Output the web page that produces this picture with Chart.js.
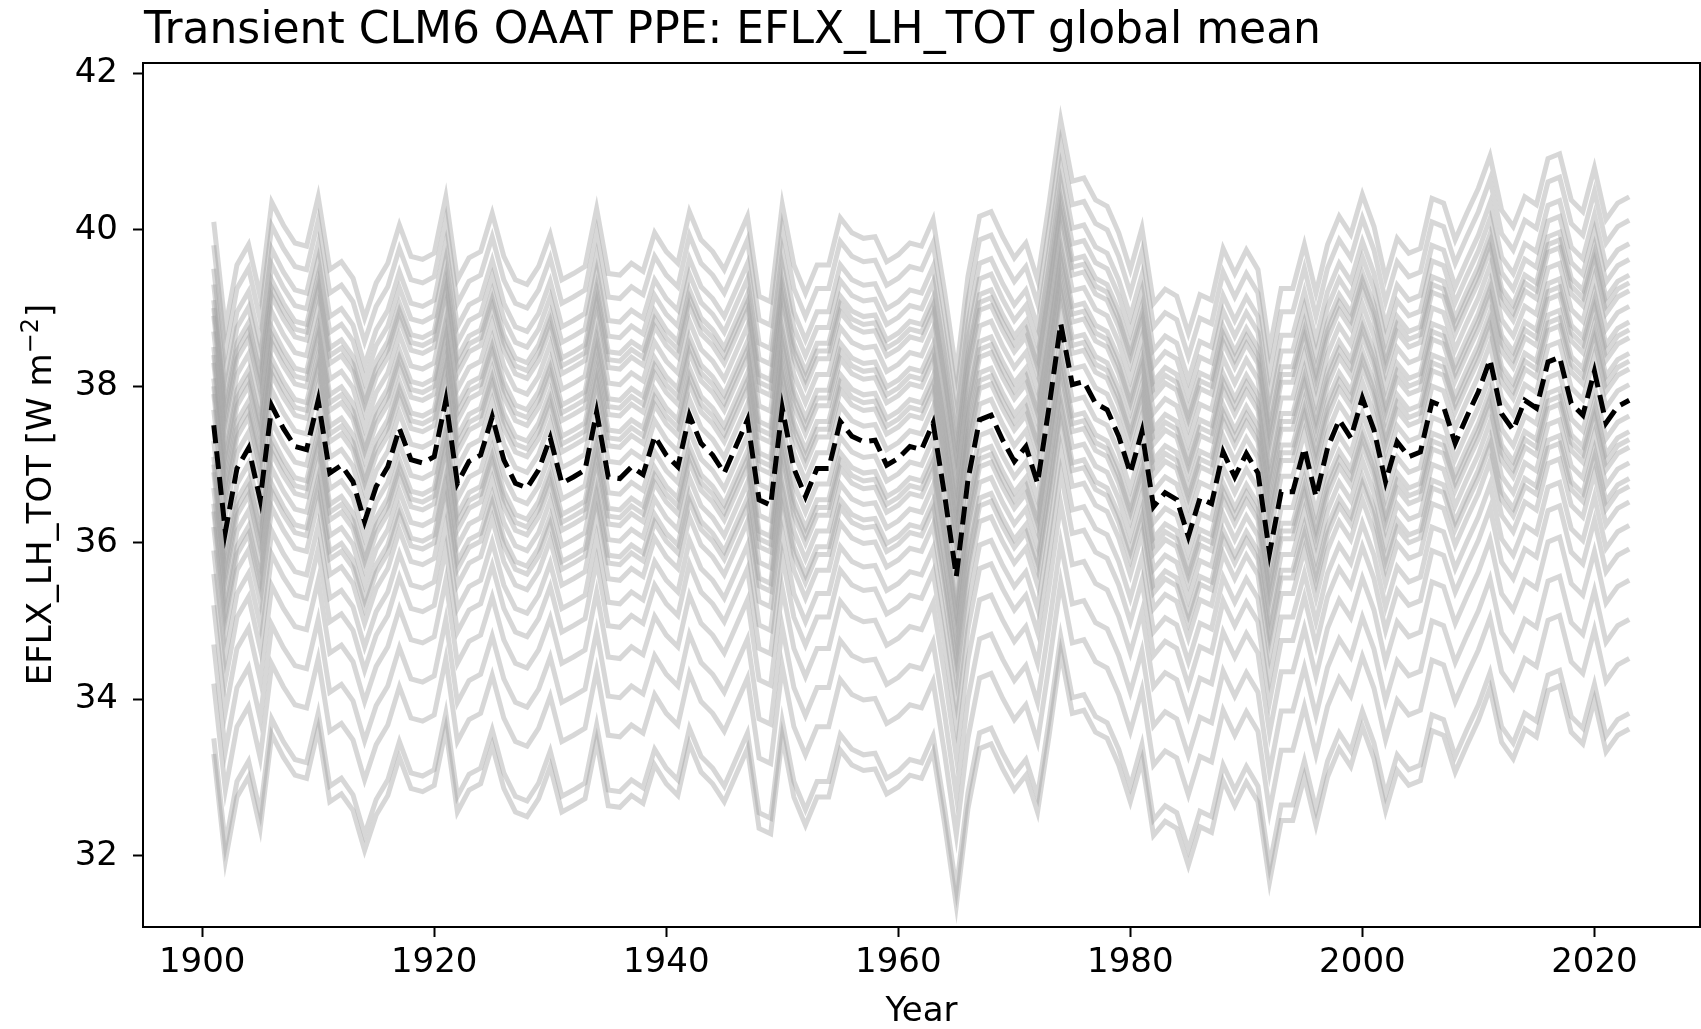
<!DOCTYPE html>
<html><head><meta charset="utf-8">
<script src="https://cdn.jsdelivr.net/npm/chart.js@4.4.1/dist/chart.umd.min.js"></script>
<style>html,body{margin:0;padding:0;background:#fff;overflow:hidden}canvas{display:block}</style>
</head><body>
<canvas id="c" width="1701" height="1029"></canvas>
<script>
const years = [1901,1902,1903,1904,1905,1906,1907,1908,1909,1910,1911,1912,1913,1914,1915,1916,1917,1918,1919,1920,1921,1922,1923,1924,1925,1926,1927,1928,1929,1930,1931,1932,1933,1934,1935,1936,1937,1938,1939,1940,1941,1942,1943,1944,1945,1946,1947,1948,1949,1950,1951,1952,1953,1954,1955,1956,1957,1958,1959,1960,1961,1962,1963,1964,1965,1966,1967,1968,1969,1970,1971,1972,1973,1974,1975,1976,1977,1978,1979,1980,1981,1982,1983,1984,1985,1986,1987,1988,1989,1990,1991,1992,1993,1994,1995,1996,1997,1998,1999,2000,2001,2002,2003,2004,2005,2006,2007,2008,2009,2010,2011,2012,2013,2014,2015,2016,2017,2018,2019,2020,2021,2022,2023];

const meanSeries = [37.50,36.14,36.95,37.21,36.55,37.75,37.46,37.23,37.19,37.82,36.89,36.99,36.78,36.27,36.72,36.97,37.46,37.06,37.02,37.10,37.82,36.76,37.04,37.12,37.61,37.06,36.76,36.70,36.93,37.34,36.76,36.84,36.93,37.67,36.84,36.82,36.97,36.87,37.36,37.12,36.97,37.63,37.27,37.12,36.89,37.23,37.57,36.55,36.48,37.72,36.95,36.59,36.95,36.95,37.55,37.36,37.29,37.31,36.99,37.08,37.23,37.19,37.53,36.60,35.57,36.80,37.57,37.63,37.31,37.04,37.23,36.76,37.74,38.80,38.02,38.06,37.78,37.70,37.36,36.89,37.42,36.46,36.64,36.55,36.08,36.57,36.50,37.16,36.84,37.14,36.89,35.87,36.65,36.65,37.21,36.59,37.21,37.57,37.34,37.85,37.44,36.78,37.29,37.10,37.16,37.80,37.74,37.27,37.61,37.93,38.34,37.65,37.44,37.82,37.72,38.31,38.37,37.78,37.63,38.19,37.53,37.74,37.82];

const m01 = [40.10,38.74,39.55,39.81,39.15,40.35,40.06,39.83,39.79,40.42,39.49,39.59,39.38,38.87,39.32,39.57,40.06,39.66,39.62,39.70,40.42,39.36,39.64,39.72,40.21,39.66,39.36,39.30,39.53,39.94,39.36,39.44,39.53,40.27,39.44,39.42,39.57,39.47,39.96,39.72,39.57,40.23,39.87,39.72,39.49,39.83,40.17,39.15,39.08,40.32,39.55,39.19,39.55,39.55,40.15,39.96,39.89,39.91,39.59,39.68,39.83,39.79,40.13,39.20,38.17,39.40,40.17,40.23,39.91,39.64,39.83,39.36,40.34,41.40,40.62,40.66,40.38,40.30,39.96,39.49,40.02,39.06,39.24,39.15,38.68,39.17,39.10,39.76,39.44,39.74,39.49,38.47,39.25,39.25,39.81,39.19,39.81,40.17,39.94,40.45,40.04,39.38,39.89,39.70,39.76,40.40,40.34,39.87,40.21,40.53,40.94,40.25,40.04,40.42,40.32,40.91,40.97,40.38,40.23,40.79,40.13,40.34,40.42];
const m02 = [39.80,38.44,39.25,39.51,38.85,40.05,39.76,39.53,39.49,40.12,39.19,39.29,39.08,38.57,39.02,39.27,39.76,39.36,39.32,39.40,40.12,39.06,39.34,39.42,39.91,39.36,39.06,39.00,39.23,39.64,39.06,39.14,39.23,39.97,39.14,39.12,39.27,39.17,39.66,39.42,39.27,39.93,39.57,39.42,39.19,39.53,39.87,38.85,38.78,40.02,39.25,38.89,39.25,39.25,39.85,39.66,39.59,39.61,39.29,39.38,39.53,39.49,39.83,38.90,37.87,39.10,39.87,39.93,39.61,39.34,39.53,39.06,40.04,41.10,40.32,40.36,40.08,40.00,39.66,39.19,39.72,38.76,38.94,38.85,38.38,38.87,38.80,39.46,39.14,39.44,39.19,38.17,38.95,38.95,39.51,38.89,39.51,39.87,39.64,40.15,39.74,39.08,39.59,39.40,39.46,40.10,40.04,39.57,39.91,40.23,40.64,39.95,39.74,40.12,40.02,40.61,40.67,40.08,39.93,40.49,39.83,40.04,40.12];
const m03 = [39.50,38.14,38.95,39.21,38.55,39.75,39.46,39.23,39.19,39.82,38.89,38.99,38.78,38.27,38.72,38.97,39.46,39.06,39.02,39.10,39.82,38.76,39.04,39.12,39.61,39.06,38.76,38.70,38.93,39.34,38.76,38.84,38.93,39.67,38.84,38.82,38.97,38.87,39.36,39.12,38.97,39.63,39.27,39.12,38.89,39.23,39.57,38.55,38.48,39.72,38.95,38.59,38.95,38.95,39.55,39.36,39.29,39.31,38.99,39.08,39.23,39.19,39.53,38.60,37.57,38.80,39.57,39.63,39.31,39.04,39.23,38.76,39.74,40.80,40.02,40.06,39.78,39.70,39.36,38.89,39.42,38.46,38.64,38.55,38.08,38.57,38.50,39.16,38.84,39.14,38.89,37.87,38.65,38.65,39.21,38.59,39.21,39.57,39.34,39.85,39.44,38.78,39.29,39.10,39.16,39.80,39.74,39.27,39.61,39.93,40.34,39.65,39.44,39.82,39.72,40.31,40.37,39.78,39.63,40.19,39.53,39.74,39.82];
const m04 = [39.30,37.94,38.75,39.01,38.35,39.55,39.26,39.03,38.99,39.62,38.69,38.79,38.58,38.07,38.52,38.77,39.26,38.86,38.82,38.90,39.62,38.56,38.84,38.92,39.41,38.86,38.56,38.50,38.73,39.14,38.56,38.64,38.73,39.47,38.64,38.62,38.77,38.67,39.16,38.92,38.77,39.43,39.07,38.92,38.69,39.03,39.37,38.35,38.28,39.52,38.75,38.39,38.75,38.75,39.35,39.16,39.09,39.11,38.79,38.88,39.03,38.99,39.33,38.40,37.37,38.60,39.37,39.43,39.11,38.84,39.03,38.56,39.54,40.60,39.82,39.86,39.58,39.50,39.16,38.69,39.22,38.26,38.44,38.35,37.88,38.37,38.30,38.96,38.64,38.94,38.69,37.67,38.45,38.45,39.01,38.39,39.01,39.37,39.14,39.65,39.24,38.58,39.09,38.90,38.96,39.60,39.54,39.07,39.41,39.73,40.14,39.45,39.24,39.62,39.52,40.11,40.17,39.58,39.43,39.99,39.33,39.54,39.62];
const m05 = [39.10,37.74,38.55,38.81,38.15,39.35,39.06,38.83,38.79,39.42,38.49,38.59,38.38,37.87,38.32,38.57,39.06,38.66,38.62,38.70,39.42,38.36,38.64,38.72,39.21,38.66,38.36,38.30,38.53,38.94,38.36,38.44,38.53,39.27,38.44,38.42,38.57,38.47,38.96,38.72,38.57,39.23,38.87,38.72,38.49,38.83,39.17,38.15,38.08,39.32,38.55,38.19,38.55,38.55,39.15,38.96,38.89,38.91,38.59,38.68,38.83,38.79,39.13,38.20,37.17,38.40,39.17,39.23,38.91,38.64,38.83,38.36,39.34,40.40,39.62,39.66,39.38,39.30,38.96,38.49,39.02,38.06,38.24,38.15,37.68,38.17,38.10,38.76,38.44,38.74,38.49,37.47,38.25,38.25,38.81,38.19,38.81,39.17,38.94,39.45,39.04,38.38,38.89,38.70,38.76,39.40,39.34,38.87,39.21,39.53,39.94,39.25,39.04,39.42,39.32,39.91,39.97,39.38,39.23,39.79,39.13,39.34,39.42];
const m06 = [38.90,37.54,38.35,38.61,37.95,39.15,38.86,38.63,38.59,39.22,38.29,38.39,38.18,37.67,38.12,38.37,38.86,38.46,38.42,38.50,39.22,38.16,38.44,38.52,39.01,38.46,38.16,38.10,38.33,38.74,38.16,38.24,38.33,39.07,38.24,38.22,38.37,38.27,38.76,38.52,38.37,39.03,38.67,38.52,38.29,38.63,38.97,37.95,37.88,39.12,38.35,37.99,38.35,38.35,38.95,38.76,38.69,38.71,38.39,38.48,38.63,38.59,38.93,38.00,36.97,38.20,38.97,39.03,38.71,38.44,38.63,38.16,39.14,40.20,39.42,39.46,39.18,39.10,38.76,38.29,38.82,37.86,38.04,37.95,37.48,37.97,37.90,38.56,38.24,38.54,38.29,37.27,38.05,38.05,38.61,37.99,38.61,38.97,38.74,39.25,38.84,38.18,38.69,38.50,38.56,39.20,39.14,38.67,39.01,39.33,39.74,39.05,38.84,39.22,39.12,39.71,39.77,39.18,39.03,39.59,38.93,39.14,39.22];
const m07 = [38.70,37.34,38.15,38.41,37.75,38.95,38.66,38.43,38.39,39.02,38.09,38.19,37.98,37.47,37.92,38.17,38.66,38.26,38.22,38.30,39.02,37.96,38.24,38.32,38.81,38.26,37.96,37.90,38.13,38.54,37.96,38.04,38.13,38.87,38.04,38.02,38.17,38.07,38.56,38.32,38.17,38.83,38.47,38.32,38.09,38.43,38.77,37.75,37.68,38.92,38.15,37.79,38.15,38.15,38.75,38.56,38.49,38.51,38.19,38.28,38.43,38.39,38.73,37.80,36.77,38.00,38.77,38.83,38.51,38.24,38.43,37.96,38.94,40.00,39.22,39.26,38.98,38.90,38.56,38.09,38.62,37.66,37.84,37.75,37.28,37.77,37.70,38.36,38.04,38.34,38.09,37.07,37.85,37.85,38.41,37.79,38.41,38.77,38.54,39.05,38.64,37.98,38.49,38.30,38.36,39.00,38.94,38.47,38.81,39.13,39.54,38.85,38.64,39.02,38.92,39.51,39.57,38.98,38.83,39.39,38.73,38.94,39.02];
const m08 = [38.50,37.14,37.95,38.21,37.55,38.75,38.46,38.23,38.19,38.82,37.89,37.99,37.78,37.27,37.72,37.97,38.46,38.06,38.02,38.10,38.82,37.76,38.04,38.12,38.61,38.06,37.76,37.70,37.93,38.34,37.76,37.84,37.93,38.67,37.84,37.82,37.97,37.87,38.36,38.12,37.97,38.63,38.27,38.12,37.89,38.23,38.57,37.55,37.48,38.72,37.95,37.59,37.95,37.95,38.55,38.36,38.29,38.31,37.99,38.08,38.23,38.19,38.53,37.60,36.57,37.80,38.57,38.63,38.31,38.04,38.23,37.76,38.74,39.80,39.02,39.06,38.78,38.70,38.36,37.89,38.42,37.46,37.64,37.55,37.08,37.57,37.50,38.16,37.84,38.14,37.89,36.87,37.65,37.65,38.21,37.59,38.21,38.57,38.34,38.85,38.44,37.78,38.29,38.10,38.16,38.80,38.74,38.27,38.61,38.93,39.34,38.65,38.44,38.82,38.72,39.31,39.37,38.78,38.63,39.19,38.53,38.74,38.82];
const m09 = [38.30,36.94,37.75,38.01,37.35,38.55,38.26,38.03,37.99,38.62,37.69,37.79,37.58,37.07,37.52,37.77,38.26,37.86,37.82,37.90,38.62,37.56,37.84,37.92,38.41,37.86,37.56,37.50,37.73,38.14,37.56,37.64,37.73,38.47,37.64,37.62,37.77,37.67,38.16,37.92,37.77,38.43,38.07,37.92,37.69,38.03,38.37,37.35,37.28,38.52,37.75,37.39,37.75,37.75,38.35,38.16,38.09,38.11,37.79,37.88,38.03,37.99,38.33,37.40,36.37,37.60,38.37,38.43,38.11,37.84,38.03,37.56,38.54,39.60,38.82,38.86,38.58,38.50,38.16,37.69,38.22,37.26,37.44,37.35,36.88,37.37,37.30,37.96,37.64,37.94,37.69,36.67,37.45,37.45,38.01,37.39,38.01,38.37,38.14,38.65,38.24,37.58,38.09,37.90,37.96,38.60,38.54,38.07,38.41,38.73,39.14,38.45,38.24,38.62,38.52,39.11,39.17,38.58,38.43,38.99,38.33,38.54,38.62];
const m10 = [38.10,36.74,37.55,37.81,37.15,38.35,38.06,37.83,37.79,38.42,37.49,37.59,37.38,36.87,37.32,37.57,38.06,37.66,37.62,37.70,38.42,37.36,37.64,37.72,38.21,37.66,37.36,37.30,37.53,37.94,37.36,37.44,37.53,38.27,37.44,37.42,37.57,37.47,37.96,37.72,37.57,38.23,37.87,37.72,37.49,37.83,38.17,37.15,37.08,38.32,37.55,37.19,37.55,37.55,38.15,37.96,37.89,37.91,37.59,37.68,37.83,37.79,38.13,37.20,36.17,37.40,38.17,38.23,37.91,37.64,37.83,37.36,38.34,39.40,38.62,38.66,38.38,38.30,37.96,37.49,38.02,37.06,37.24,37.15,36.68,37.17,37.10,37.76,37.44,37.74,37.49,36.47,37.25,37.25,37.81,37.19,37.81,38.17,37.94,38.45,38.04,37.38,37.89,37.70,37.76,38.40,38.34,37.87,38.21,38.53,38.94,38.25,38.04,38.42,38.32,38.91,38.97,38.38,38.23,38.79,38.13,38.34,38.42];
const m11 = [37.90,36.54,37.35,37.61,36.95,38.15,37.86,37.63,37.59,38.22,37.29,37.39,37.18,36.67,37.12,37.37,37.86,37.46,37.42,37.50,38.22,37.16,37.44,37.52,38.01,37.46,37.16,37.10,37.33,37.74,37.16,37.24,37.33,38.07,37.24,37.22,37.37,37.27,37.76,37.52,37.37,38.03,37.67,37.52,37.29,37.63,37.97,36.95,36.88,38.12,37.35,36.99,37.35,37.35,37.95,37.76,37.69,37.71,37.39,37.48,37.63,37.59,37.93,37.00,35.97,37.20,37.97,38.03,37.71,37.44,37.63,37.16,38.14,39.20,38.42,38.46,38.18,38.10,37.76,37.29,37.82,36.86,37.04,36.95,36.48,36.97,36.90,37.56,37.24,37.54,37.29,36.27,37.05,37.05,37.61,36.99,37.61,37.97,37.74,38.25,37.84,37.18,37.69,37.50,37.56,38.20,38.14,37.67,38.01,38.33,38.74,38.05,37.84,38.22,38.12,38.71,38.77,38.18,38.03,38.59,37.93,38.14,38.22];
const m12 = [37.70,36.34,37.15,37.41,36.75,37.95,37.66,37.43,37.39,38.02,37.09,37.19,36.98,36.47,36.92,37.17,37.66,37.26,37.22,37.30,38.02,36.96,37.24,37.32,37.81,37.26,36.96,36.90,37.13,37.54,36.96,37.04,37.13,37.87,37.04,37.02,37.17,37.07,37.56,37.32,37.17,37.83,37.47,37.32,37.09,37.43,37.77,36.75,36.68,37.92,37.15,36.79,37.15,37.15,37.75,37.56,37.49,37.51,37.19,37.28,37.43,37.39,37.73,36.80,35.77,37.00,37.77,37.83,37.51,37.24,37.43,36.96,37.94,39.00,38.22,38.26,37.98,37.90,37.56,37.09,37.62,36.66,36.84,36.75,36.28,36.77,36.70,37.36,37.04,37.34,37.09,36.07,36.85,36.85,37.41,36.79,37.41,37.77,37.54,38.05,37.64,36.98,37.49,37.30,37.36,38.00,37.94,37.47,37.81,38.13,38.54,37.85,37.64,38.02,37.92,38.51,38.57,37.98,37.83,38.39,37.73,37.94,38.02];
const m13 = [37.30,35.94,36.75,37.01,36.35,37.55,37.26,37.03,36.99,37.62,36.69,36.79,36.58,36.07,36.52,36.77,37.26,36.86,36.82,36.90,37.62,36.56,36.84,36.92,37.41,36.86,36.56,36.50,36.73,37.14,36.56,36.64,36.73,37.47,36.64,36.62,36.77,36.67,37.16,36.92,36.77,37.43,37.07,36.92,36.69,37.03,37.37,36.35,36.28,37.52,36.75,36.39,36.75,36.75,37.35,37.16,37.09,37.11,36.79,36.88,37.03,36.99,37.33,36.40,35.37,36.60,37.37,37.43,37.11,36.84,37.03,36.56,37.54,38.60,37.82,37.86,37.58,37.50,37.16,36.69,37.22,36.26,36.44,36.35,35.88,36.37,36.30,36.96,36.64,36.94,36.69,35.67,36.45,36.45,37.01,36.39,37.01,37.37,37.14,37.65,37.24,36.58,37.09,36.90,36.96,37.60,37.54,37.07,37.41,37.73,38.14,37.45,37.24,37.62,37.52,38.11,38.17,37.58,37.43,37.99,37.33,37.54,37.62];
const m14 = [37.10,35.74,36.55,36.81,36.15,37.35,37.06,36.83,36.79,37.42,36.49,36.59,36.38,35.87,36.32,36.57,37.06,36.66,36.62,36.70,37.42,36.36,36.64,36.72,37.21,36.66,36.36,36.30,36.53,36.94,36.36,36.44,36.53,37.27,36.44,36.42,36.57,36.47,36.96,36.72,36.57,37.23,36.87,36.72,36.49,36.83,37.17,36.15,36.08,37.32,36.55,36.19,36.55,36.55,37.15,36.96,36.89,36.91,36.59,36.68,36.83,36.79,37.13,36.20,35.17,36.40,37.17,37.23,36.91,36.64,36.83,36.36,37.34,38.40,37.62,37.66,37.38,37.30,36.96,36.49,37.02,36.06,36.24,36.15,35.68,36.17,36.10,36.76,36.44,36.74,36.49,35.47,36.25,36.25,36.81,36.19,36.81,37.17,36.94,37.45,37.04,36.38,36.89,36.70,36.76,37.40,37.34,36.87,37.21,37.53,37.94,37.25,37.04,37.42,37.32,37.91,37.97,37.38,37.23,37.79,37.13,37.34,37.42];
const m15 = [36.90,35.54,36.35,36.61,35.95,37.15,36.86,36.63,36.59,37.22,36.29,36.39,36.18,35.67,36.12,36.37,36.86,36.46,36.42,36.50,37.22,36.16,36.44,36.52,37.01,36.46,36.16,36.10,36.33,36.74,36.16,36.24,36.33,37.07,36.24,36.22,36.37,36.27,36.76,36.52,36.37,37.03,36.67,36.52,36.29,36.63,36.97,35.95,35.88,37.12,36.35,35.99,36.35,36.35,36.95,36.76,36.69,36.71,36.39,36.48,36.63,36.59,36.93,36.00,34.97,36.20,36.97,37.03,36.71,36.44,36.63,36.16,37.14,38.20,37.42,37.46,37.18,37.10,36.76,36.29,36.82,35.86,36.04,35.95,35.48,35.97,35.90,36.56,36.24,36.54,36.29,35.27,36.05,36.05,36.61,35.99,36.61,36.97,36.74,37.25,36.84,36.18,36.69,36.50,36.56,37.20,37.14,36.67,37.01,37.33,37.74,37.05,36.84,37.22,37.12,37.71,37.77,37.18,37.03,37.59,36.93,37.14,37.22];
const m16 = [36.70,35.34,36.15,36.41,35.75,36.95,36.66,36.43,36.39,37.02,36.09,36.19,35.98,35.47,35.92,36.17,36.66,36.26,36.22,36.30,37.02,35.96,36.24,36.32,36.81,36.26,35.96,35.90,36.13,36.54,35.96,36.04,36.13,36.87,36.04,36.02,36.17,36.07,36.56,36.32,36.17,36.83,36.47,36.32,36.09,36.43,36.77,35.75,35.68,36.92,36.15,35.79,36.15,36.15,36.75,36.56,36.49,36.51,36.19,36.28,36.43,36.39,36.73,35.80,34.77,36.00,36.77,36.83,36.51,36.24,36.43,35.96,36.94,38.00,37.22,37.26,36.98,36.90,36.56,36.09,36.62,35.66,35.84,35.75,35.28,35.77,35.70,36.36,36.04,36.34,36.09,35.07,35.85,35.85,36.41,35.79,36.41,36.77,36.54,37.05,36.64,35.98,36.49,36.30,36.36,37.00,36.94,36.47,36.81,37.13,37.54,36.85,36.64,37.02,36.92,37.51,37.57,36.98,36.83,37.39,36.73,36.94,37.02];
const m17 = [36.50,35.14,35.95,36.21,35.55,36.75,36.46,36.23,36.19,36.82,35.89,35.99,35.78,35.27,35.72,35.97,36.46,36.06,36.02,36.10,36.82,35.76,36.04,36.12,36.61,36.06,35.76,35.70,35.93,36.34,35.76,35.84,35.93,36.67,35.84,35.82,35.97,35.87,36.36,36.12,35.97,36.63,36.27,36.12,35.89,36.23,36.57,35.55,35.48,36.72,35.95,35.59,35.95,35.95,36.55,36.36,36.29,36.31,35.99,36.08,36.23,36.19,36.53,35.60,34.57,35.80,36.57,36.63,36.31,36.04,36.23,35.76,36.74,37.80,37.02,37.06,36.78,36.70,36.36,35.89,36.42,35.46,35.64,35.55,35.08,35.57,35.50,36.16,35.84,36.14,35.89,34.87,35.65,35.65,36.21,35.59,36.21,36.57,36.34,36.85,36.44,35.78,36.29,36.10,36.16,36.80,36.74,36.27,36.61,36.93,37.34,36.65,36.44,36.82,36.72,37.31,37.37,36.78,36.63,37.19,36.53,36.74,36.82];
const m18 = [36.20,34.84,35.65,35.91,35.25,36.45,36.16,35.93,35.89,36.52,35.59,35.69,35.48,34.97,35.42,35.67,36.16,35.76,35.72,35.80,36.52,35.46,35.74,35.82,36.31,35.76,35.46,35.40,35.63,36.04,35.46,35.54,35.63,36.37,35.54,35.52,35.67,35.57,36.06,35.82,35.67,36.33,35.97,35.82,35.59,35.93,36.27,35.25,35.18,36.42,35.65,35.29,35.65,35.65,36.25,36.06,35.99,36.01,35.69,35.78,35.93,35.89,36.23,35.30,34.27,35.50,36.27,36.33,36.01,35.74,35.93,35.46,36.44,37.50,36.72,36.76,36.48,36.40,36.06,35.59,36.12,35.16,35.34,35.25,34.78,35.27,35.20,35.86,35.54,35.84,35.59,34.57,35.35,35.35,35.91,35.29,35.91,36.27,36.04,36.55,36.14,35.48,35.99,35.80,35.86,36.50,36.44,35.97,36.31,36.63,37.04,36.35,36.14,36.52,36.42,37.01,37.07,36.48,36.33,36.89,36.23,36.44,36.52];
const m19 = [35.90,34.54,35.35,35.61,34.95,36.15,35.86,35.63,35.59,36.22,35.29,35.39,35.18,34.67,35.12,35.37,35.86,35.46,35.42,35.50,36.22,35.16,35.44,35.52,36.01,35.46,35.16,35.10,35.33,35.74,35.16,35.24,35.33,36.07,35.24,35.22,35.37,35.27,35.76,35.52,35.37,36.03,35.67,35.52,35.29,35.63,35.97,34.95,34.88,36.12,35.35,34.99,35.35,35.35,35.95,35.76,35.69,35.71,35.39,35.48,35.63,35.59,35.93,35.00,33.97,35.20,35.97,36.03,35.71,35.44,35.63,35.16,36.14,37.20,36.42,36.46,36.18,36.10,35.76,35.29,35.82,34.86,35.04,34.95,34.48,34.97,34.90,35.56,35.24,35.54,35.29,34.27,35.05,35.05,35.61,34.99,35.61,35.97,35.74,36.25,35.84,35.18,35.69,35.50,35.56,36.20,36.14,35.67,36.01,36.33,36.74,36.05,35.84,36.22,36.12,36.71,36.77,36.18,36.03,36.59,35.93,36.14,36.22];
const m20 = [35.60,34.24,35.05,35.31,34.65,35.85,35.56,35.33,35.29,35.92,34.99,35.09,34.88,34.37,34.82,35.07,35.56,35.16,35.12,35.20,35.92,34.86,35.14,35.22,35.71,35.16,34.86,34.80,35.03,35.44,34.86,34.94,35.03,35.77,34.94,34.92,35.07,34.97,35.46,35.22,35.07,35.73,35.37,35.22,34.99,35.33,35.67,34.65,34.58,35.82,35.05,34.69,35.05,35.05,35.65,35.46,35.39,35.41,35.09,35.18,35.33,35.29,35.63,34.70,33.67,34.90,35.67,35.73,35.41,35.14,35.33,34.86,35.84,36.90,36.12,36.16,35.88,35.80,35.46,34.99,35.52,34.56,34.74,34.65,34.18,34.67,34.60,35.26,34.94,35.24,34.99,33.97,34.75,34.75,35.31,34.69,35.31,35.67,35.44,35.95,35.54,34.88,35.39,35.20,35.26,35.90,35.84,35.37,35.71,36.03,36.44,35.75,35.54,35.92,35.82,36.41,36.47,35.88,35.73,36.29,35.63,35.84,35.92];
const m21 = [35.20,33.84,34.65,34.91,34.25,35.45,35.16,34.93,34.89,35.52,34.59,34.69,34.48,33.97,34.42,34.67,35.16,34.76,34.72,34.80,35.52,34.46,34.74,34.82,35.31,34.76,34.46,34.40,34.63,35.04,34.46,34.54,34.63,35.37,34.54,34.52,34.67,34.57,35.06,34.82,34.67,35.33,34.97,34.82,34.59,34.93,35.27,34.25,34.18,35.42,34.65,34.29,34.65,34.65,35.25,35.06,34.99,35.01,34.69,34.78,34.93,34.89,35.23,34.30,33.27,34.50,35.27,35.33,35.01,34.74,34.93,34.46,35.44,36.50,35.72,35.76,35.48,35.40,35.06,34.59,35.12,34.16,34.34,34.25,33.78,34.27,34.20,34.86,34.54,34.84,34.59,33.57,34.35,34.35,34.91,34.29,34.91,35.27,35.04,35.55,35.14,34.48,34.99,34.80,34.86,35.50,35.44,34.97,35.31,35.63,36.04,35.35,35.14,35.52,35.42,36.01,36.07,35.48,35.33,35.89,35.23,35.44,35.52];
const m22 = [34.70,33.34,34.15,34.41,33.75,34.95,34.66,34.43,34.39,35.02,34.09,34.19,33.98,33.47,33.92,34.17,34.66,34.26,34.22,34.30,35.02,33.96,34.24,34.32,34.81,34.26,33.96,33.90,34.13,34.54,33.96,34.04,34.13,34.87,34.04,34.02,34.17,34.07,34.56,34.32,34.17,34.83,34.47,34.32,34.09,34.43,34.77,33.75,33.68,34.92,34.15,33.79,34.15,34.15,34.75,34.56,34.49,34.51,34.19,34.28,34.43,34.39,34.73,33.80,32.77,34.00,34.77,34.83,34.51,34.24,34.43,33.96,34.94,36.00,35.22,35.26,34.98,34.90,34.56,34.09,34.62,33.66,33.84,33.75,33.28,33.77,33.70,34.36,34.04,34.34,34.09,33.07,33.85,33.85,34.41,33.79,34.41,34.77,34.54,35.05,34.64,33.98,34.49,34.30,34.36,35.00,34.94,34.47,34.81,35.13,35.54,34.85,34.64,35.02,34.92,35.51,35.57,34.98,34.83,35.39,34.73,34.94,35.02];
const m23 = [34.20,32.84,33.65,33.91,33.25,34.45,34.16,33.93,33.89,34.52,33.59,33.69,33.48,32.97,33.42,33.67,34.16,33.76,33.72,33.80,34.52,33.46,33.74,33.82,34.31,33.76,33.46,33.40,33.63,34.04,33.46,33.54,33.63,34.37,33.54,33.52,33.67,33.57,34.06,33.82,33.67,34.33,33.97,33.82,33.59,33.93,34.27,33.25,33.18,34.42,33.65,33.29,33.65,33.65,34.25,34.06,33.99,34.01,33.69,33.78,33.93,33.89,34.23,33.30,32.27,33.50,34.27,34.33,34.01,33.74,33.93,33.46,34.44,35.50,34.72,34.76,34.48,34.40,34.06,33.59,34.12,33.16,33.34,33.25,32.78,33.27,33.20,33.86,33.54,33.84,33.59,32.57,33.35,33.35,33.91,33.29,33.91,34.27,34.04,34.55,34.14,33.48,33.99,33.80,33.86,34.50,34.44,33.97,34.31,34.63,35.04,34.35,34.14,34.52,34.42,35.01,35.07,34.48,34.33,34.89,34.23,34.44,34.52];
const m24 = [33.50,32.14,32.95,33.21,32.55,33.75,33.46,33.23,33.19,33.82,32.89,32.99,32.78,32.27,32.72,32.97,33.46,33.06,33.02,33.10,33.82,32.76,33.04,33.12,33.61,33.06,32.76,32.70,32.93,33.34,32.76,32.84,32.93,33.67,32.84,32.82,32.97,32.87,33.36,33.12,32.97,33.63,33.27,33.12,32.89,33.23,33.57,32.55,32.48,33.72,32.95,32.59,32.95,32.95,33.55,33.36,33.29,33.31,32.99,33.08,33.23,33.19,33.53,32.60,31.57,32.80,33.57,33.63,33.31,33.04,33.23,32.76,33.74,34.80,34.02,34.06,33.78,33.70,33.36,32.89,33.42,32.46,32.64,32.55,32.08,32.57,32.50,33.16,32.84,33.14,32.89,31.87,32.65,32.65,33.21,32.59,33.21,33.57,33.34,33.85,33.44,32.78,33.29,33.10,33.16,33.80,33.74,33.27,33.61,33.93,34.34,33.65,33.44,33.82,33.72,34.31,34.37,33.78,33.63,34.19,33.53,33.74,33.82];
const m25 = [33.30,31.94,32.75,33.01,32.35,33.55,33.26,33.03,32.99,33.62,32.69,32.79,32.58,32.07,32.52,32.77,33.26,32.86,32.82,32.90,33.62,32.56,32.84,32.92,33.41,32.86,32.56,32.50,32.73,33.14,32.56,32.64,32.73,33.47,32.64,32.62,32.77,32.67,33.16,32.92,32.77,33.43,33.07,32.92,32.69,33.03,33.37,32.35,32.28,33.52,32.75,32.39,32.75,32.75,33.35,33.16,33.09,33.11,32.79,32.88,33.03,32.99,33.33,32.40,31.37,32.60,33.37,33.43,33.11,32.84,33.03,32.56,33.54,34.60,33.82,33.86,33.58,33.50,33.16,32.69,33.22,32.26,32.44,32.35,31.88,32.37,32.30,32.96,32.64,32.94,32.69,31.67,32.45,32.45,33.01,32.39,33.01,33.37,33.14,33.65,33.24,32.58,33.09,32.90,32.96,33.60,33.54,33.07,33.41,33.73,34.14,33.45,33.24,33.62,33.52,34.11,34.17,33.58,33.43,33.99,33.33,33.54,33.62];
const m26 = [39.00,37.64,38.45,38.71,38.05,39.25,38.96,38.73,38.69,39.32,38.39,38.49,38.28,37.77,38.22,38.47,38.96,38.56,38.52,38.60,39.32,38.26,38.54,38.62,39.11,38.56,38.26,38.20,38.43,38.84,38.26,38.34,38.43,39.17,38.34,38.32,38.47,38.37,38.86,38.62,38.47,39.13,38.77,38.62,38.39,38.73,39.07,38.05,37.98,39.22,38.45,38.09,38.45,38.45,39.05,38.86,38.79,38.81,38.49,38.58,38.73,38.69,39.03,38.10,37.07,38.30,39.07,39.13,38.81,38.54,38.73,38.26,39.24,40.30,39.52,39.56,39.28,39.20,38.86,38.39,38.92,37.96,38.14,38.05,37.58,38.07,38.00,38.66,38.34,38.64,38.39,37.37,38.15,38.15,38.71,38.09,38.71,39.07,38.84,39.35,38.94,38.28,38.79,38.60,38.66,39.30,39.24,38.77,39.11,39.43,39.84,39.15,38.94,39.32,39.22,39.81,39.87,39.28,39.13,39.69,39.03,39.24,39.32];
const m27 = [38.40,37.04,37.85,38.11,37.45,38.65,38.36,38.13,38.09,38.72,37.79,37.89,37.68,37.17,37.62,37.87,38.36,37.96,37.92,38.00,38.72,37.66,37.94,38.02,38.51,37.96,37.66,37.60,37.83,38.24,37.66,37.74,37.83,38.57,37.74,37.72,37.87,37.77,38.26,38.02,37.87,38.53,38.17,38.02,37.79,38.13,38.47,37.45,37.38,38.62,37.85,37.49,37.85,37.85,38.45,38.26,38.19,38.21,37.89,37.98,38.13,38.09,38.43,37.50,36.47,37.70,38.47,38.53,38.21,37.94,38.13,37.66,38.64,39.70,38.92,38.96,38.68,38.60,38.26,37.79,38.32,37.36,37.54,37.45,36.98,37.47,37.40,38.06,37.74,38.04,37.79,36.77,37.55,37.55,38.11,37.49,38.11,38.47,38.24,38.75,38.34,37.68,38.19,38.00,38.06,38.70,38.64,38.17,38.51,38.83,39.24,38.55,38.34,38.72,38.62,39.21,39.27,38.68,38.53,39.09,38.43,38.64,38.72];
const m28 = [38.00,36.64,37.45,37.71,37.05,38.25,37.96,37.73,37.69,38.32,37.39,37.49,37.28,36.77,37.22,37.47,37.96,37.56,37.52,37.60,38.32,37.26,37.54,37.62,38.11,37.56,37.26,37.20,37.43,37.84,37.26,37.34,37.43,38.17,37.34,37.32,37.47,37.37,37.86,37.62,37.47,38.13,37.77,37.62,37.39,37.73,38.07,37.05,36.98,38.22,37.45,37.09,37.45,37.45,38.05,37.86,37.79,37.81,37.49,37.58,37.73,37.69,38.03,37.10,36.07,37.30,38.07,38.13,37.81,37.54,37.73,37.26,38.24,39.30,38.52,38.56,38.28,38.20,37.86,37.39,37.92,36.96,37.14,37.05,36.58,37.07,37.00,37.66,37.34,37.64,37.39,36.37,37.15,37.15,37.71,37.09,37.71,38.07,37.84,38.35,37.94,37.28,37.79,37.60,37.66,38.30,38.24,37.77,38.11,38.43,38.84,38.15,37.94,38.32,38.22,38.81,38.87,38.28,38.13,38.69,38.03,38.24,38.32];
const m29 = [37.00,35.64,36.45,36.71,36.05,37.25,36.96,36.73,36.69,37.32,36.39,36.49,36.28,35.77,36.22,36.47,36.96,36.56,36.52,36.60,37.32,36.26,36.54,36.62,37.11,36.56,36.26,36.20,36.43,36.84,36.26,36.34,36.43,37.17,36.34,36.32,36.47,36.37,36.86,36.62,36.47,37.13,36.77,36.62,36.39,36.73,37.07,36.05,35.98,37.22,36.45,36.09,36.45,36.45,37.05,36.86,36.79,36.81,36.49,36.58,36.73,36.69,37.03,36.10,35.07,36.30,37.07,37.13,36.81,36.54,36.73,36.26,37.24,38.30,37.52,37.56,37.28,37.20,36.86,36.39,36.92,35.96,36.14,36.05,35.58,36.07,36.00,36.66,36.34,36.64,36.39,35.37,36.15,36.15,36.71,36.09,36.71,37.07,36.84,37.35,36.94,36.28,36.79,36.60,36.66,37.30,37.24,36.77,37.11,37.43,37.84,37.15,36.94,37.32,37.22,37.81,37.87,37.28,37.13,37.69,37.03,37.24,37.32];
const m30 = [36.40,35.04,35.85,36.11,35.45,36.65,36.36,36.13,36.09,36.72,35.79,35.89,35.68,35.17,35.62,35.87,36.36,35.96,35.92,36.00,36.72,35.66,35.94,36.02,36.51,35.96,35.66,35.60,35.83,36.24,35.66,35.74,35.83,36.57,35.74,35.72,35.87,35.77,36.26,36.02,35.87,36.53,36.17,36.02,35.79,36.13,36.47,35.45,35.38,36.62,35.85,35.49,35.85,35.85,36.45,36.26,36.19,36.21,35.89,35.98,36.13,36.09,36.43,35.50,34.47,35.70,36.47,36.53,36.21,35.94,36.13,35.66,36.64,37.70,36.92,36.96,36.68,36.60,36.26,35.79,36.32,35.36,35.54,35.45,34.98,35.47,35.40,36.06,35.74,36.04,35.79,34.77,35.55,35.55,36.11,35.49,36.11,36.47,36.24,36.75,36.34,35.68,36.19,36.00,36.06,36.70,36.64,36.17,36.51,36.83,37.24,36.55,36.34,36.72,36.62,37.21,37.27,36.68,36.53,37.09,36.43,36.64,36.72];

const xTicks = [1900, 1920, 1940, 1960, 1980, 2000, 2020];
const yTicks = [32, 34, 36, 38, 40, 42];
const titleText = 'Transient CLM6 OAAT PPE: EFLX_LH_TOT global mean';
const xLabel = 'Year';
const yLabelMain = 'EFLX_LH_TOT [W m';
const yLabelSup = '\u22122';
const yLabelEnd = ']';

const members = [m01,m02,m03,m04,m05,m06,m07,m08,m09,m10,m11,m12,m13,m14,m15,m16,m17,m18,m19,m20,m21,m22,m23,m24,m25,m26,m27,m28,m29,m30];

const FONT = "'DejaVu Sans', sans-serif";

const frame = {
  id: 'frame',
  afterDraw(chart) {
    const { ctx, chartArea: a } = chart;
    ctx.save();
    ctx.strokeStyle = '#000';
    ctx.lineWidth = 2;
    ctx.strokeRect(a.left, a.top, a.right - a.left, a.bottom - a.top);
    ctx.fillStyle = '#000';
    ctx.font = '44px ' + FONT;
    ctx.textAlign = 'left';
    ctx.textBaseline = 'alphabetic';
    ctx.fillText(titleText, a.left + 1, 43);
    ctx.font = '34px ' + FONT;
    ctx.textAlign = 'center';
    ctx.fillText(xLabel, (a.left + a.right) / 2, 1021);
    // rotated y label with a real superscript
    ctx.translate(51, (a.top + a.bottom) / 2);
    ctx.rotate(-Math.PI / 2);
    ctx.textAlign = 'left';
    const mainFont = '34px ' + FONT, supFont = '24px ' + FONT;
    ctx.font = mainFont; const w1 = ctx.measureText(yLabelMain).width;
    ctx.font = supFont; const w2 = ctx.measureText(yLabelSup).width;
    ctx.font = mainFont; const w3 = ctx.measureText(yLabelEnd).width;
    let x0 = -(w1 + w2 + w3) / 2;
    ctx.font = mainFont; ctx.fillText(yLabelMain, x0, 0);
    ctx.font = supFont; ctx.fillText(yLabelSup, x0 + w1, -13);
    ctx.font = mainFont; ctx.fillText(yLabelEnd, x0 + w1 + w2 + 1, 0);
    ctx.restore();
  }
};

const datasets = [{
  data: meanSeries, borderColor: '#000', borderWidth: 5, borderDash: [18, 8],
  pointRadius: 0, fill: false, tension: 0
}];
members.forEach(m => datasets.push({
  data: m, borderColor: 'rgba(160,160,160,0.42)', borderWidth: 5,
  pointRadius: 0, fill: false, tension: 0
}));

const tickFont = { family: FONT, size: 34 };

new Chart(document.getElementById('c'), {
  type: 'line',
  data: { labels: years, datasets },
  options: {
    responsive: false, animation: false, devicePixelRatio: 1,
    layout: { padding: { top: 63, right: 1, left: 0, bottom: 0 } },
    plugins: { legend: { display: false }, tooltip: { enabled: false }, title: { display: false } },
    scales: {
      x: {
        type: 'linear', min: 1894.9, max: 2029.1,
        afterBuildTicks: s => { s.ticks = xTicks.map(v => ({ value: v })); },
        afterFit: s => { s.height = 102; },
        grid: { display: true, drawOnChartArea: false, drawTicks: true, tickLength: 10, tickWidth: 2, tickColor: '#000' },
        border: { display: true, color: '#000', width: 2 },
        ticks: { color: '#000', font: tickFont, padding: 6, maxRotation: 0, autoSkip: false, callback: v => String(v) }
      },
      y: {
        min: 31.09, max: 42.13,
        afterBuildTicks: s => { s.ticks = yTicks.map(v => ({ value: v })); },
        afterFit: s => { s.width = 143; },
        grid: { display: true, drawOnChartArea: false, drawTicks: true, tickLength: 10, tickWidth: 2, tickColor: '#000' },
        border: { display: true, color: '#000', width: 2 },
        ticks: { color: '#000', font: tickFont, padding: 15, autoSkip: false, callback: v => String(v) }
      }
    }
  },
  plugins: [frame]
});
</script>
</body></html>
